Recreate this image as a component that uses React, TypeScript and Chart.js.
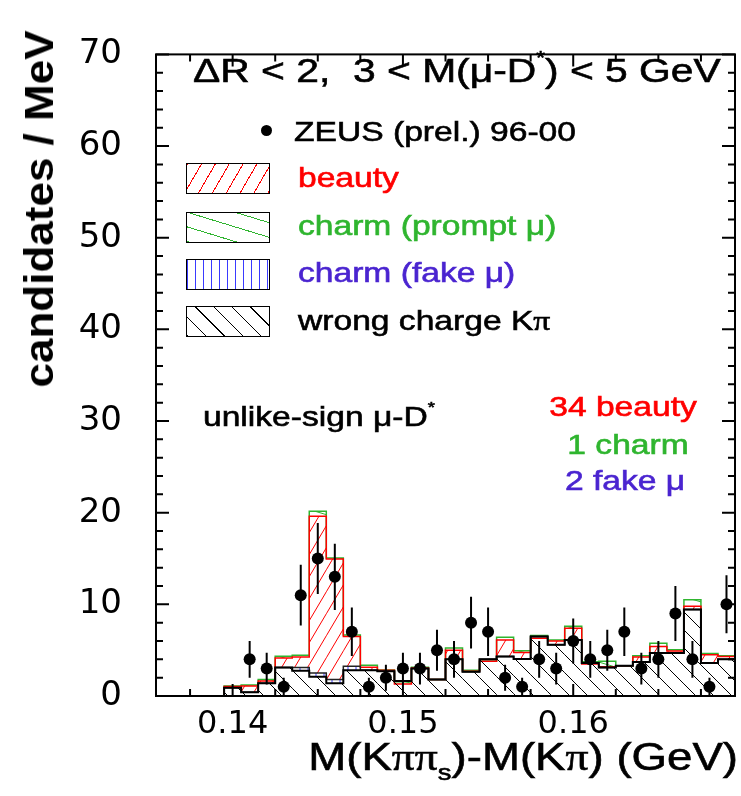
import React, { useEffect, useRef } from 'react';
import { Chart, registerables } from 'chart.js';

Chart.register(...registerables);

// Histogram bins: centres in MeV, 1 MeV wide
const BIN_CENTERS_MEV = [
  140, 141, 142, 143, 144, 145, 146, 147, 148, 149,
  150, 151, 152, 153, 154, 155, 156, 157, 158, 159,
  160, 161, 162, 163, 164, 165, 166, 167, 168, 169,
];

// Stacked MC / background components (candidates / MeV)
const WRONG_CHARGE = [
  0.9, 0.4, 1.4, 3.1, 2.75, 2.1, 1.4, 2.8, 2.8, 2.7,
  1.65, 3.0, 1.8, 4.0, 2.65, 4.0, 4.3, 4.05, 6.5, 5.6,
  6.1, 3.6, 3.1, 3.3, 3.7, 4.7, 4.7, 9.45, 3.6, 4.0,
];
const CHARM_FAKE_MU = [
  0, 0, 0, 0, 0.35, 0.4, 0.4, 0.45, 0, 0,
  0, 0, 0, 0, 0, 0, 0, 0, 0, 0,
  0, 0, 0, 0, 0, 0, 0, 0, 0, 0,
];
const BEAUTY = [
  0.15, 0.7, 0.25, 1.05, 1.15, 17.1, 13.15, 3.25, 0.35, 0.1,
  -0.35, 0.05, 0, 1.0, 0.05, -0.2, 1.8, 0.7, -0.2, 0.4,
  1.3, -0.1, 0.1, 0, 0.55, 0.7, 0.2, 0.35, 0.9, 0.3,
];
const CHARM_PROMPT_MU = [
  0.05, 0.1, 0.15, 0.2, 0.2, 0.55, 0.1, 0.15, 0.2, 0.05,
  0.25, 0.1, 0, 0.25, 0.1, 0, 0.3, 0.2, 0.3, 0.1,
  0.2, 0.25, 0.6, 0, 0.15, 0.35, 0.15, 0.7, 0.15, 0.1,
];

// ZEUS (prel.) 96-00 data
const DATA_BINS_MEV = [
  141, 142, 143, 144, 145, 146, 147, 148, 149, 150,
  151, 152, 153, 154, 155, 156, 157, 158, 159, 160,
  161, 162, 163, 164, 165, 166, 167, 168, 169,
];
const DATA_COUNTS = [
  4, 3, 1, 11, 15, 13, 7, 1, 2, 3,
  3, 5, 4, 8, 7, 2, 1, 4, 3, 6,
  4, 5, 7, 3, 4, 9, 4, 1, 10,
];

const X_TICKS = [0.14, 0.15, 0.16];
const Y_TICKS = [0, 10, 20, 30, 40, 50, 60, 70];
const X_MIN = 0.1355;
const X_MAX = 0.1695;
const Y_MIN = 0;
const Y_MAX = 70;

const RED = '#ff0000';
const GREEN = '#2fb52f';
const BLUE_TEXT = '#4a24d0';
const BLUE_HATCH = '#3a3aff';

const SANS = '"Liberation Sans", Arial, Helvetica, sans-serif';
const SERIF = '"Liberation Serif", "DejaVu Serif", serif';

function makeHatch(color: string, w: number, h: number, dir: 'up' | 'down' | 'vertical', lw = 1) {
  const c = document.createElement('canvas');
  c.width = w;
  c.height = h;
  const g = c.getContext('2d')!;
  g.strokeStyle = color;
  g.lineWidth = lw;
  g.beginPath();
  for (const ox of [-w, 0, w]) {
    for (const oy of [-h, 0, h]) {
      if (dir === 'up') {
        g.moveTo(ox, oy + h);
        g.lineTo(ox + w, oy);
      } else if (dir === 'down') {
        g.moveTo(ox, oy);
        g.lineTo(ox + w, oy + h);
      } else {
        g.moveTo(ox + w / 2, oy);
        g.lineTo(ox + w / 2, oy + h);
      }
    }
  }
  g.stroke();
  return g.createPattern(c, 'repeat')!;
}

function cumulative(base: number[], add: number[]) {
  return base.map((v, i) => v + add[i]);
}

// hatched band between two stacked levels, one bar per bin
function band(lo: number[], hi: number[]) {
  return BIN_CENTERS_MEV.flatMap((m, i) =>
    hi[i] > lo[i] ? [{ x: m / 1000, y: [lo[i], hi[i]] }] : []
  );
}

// step outline of a histogram level, drawn from bin edges
function outline(levels: number[]) {
  const n = BIN_CENTERS_MEV.length;
  const first = (BIN_CENTERS_MEV[0] - 0.5) / 1000;
  const last = (BIN_CENTERS_MEV[n - 1] + 0.5) / 1000;
  const pts: { x: number; y: number }[] = [{ x: first, y: 0 }];
  levels.forEach((v, i) => pts.push({ x: (BIN_CENTERS_MEV[i] - 0.5) / 1000, y: v }));
  pts.push({ x: last, y: levels[n - 1] }, { x: last, y: 0 });
  return pts;
}

const frameAndTicks = {
  id: 'frameAndTicks',
  afterDatasetsDraw(chart: any) {
    const { ctx, chartArea: a, scales } = chart;
    const xs = scales.x;
    const ys = scales.y;
    ctx.save();
    ctx.strokeStyle = '#000';
    ctx.lineWidth = 2;
    ctx.beginPath();
    for (let v = Y_MIN; v <= Y_MAX; v += 2) {
      const p = ys.getPixelForValue(v);
      const len = v % 10 === 0 ? 13 : 7;
      ctx.moveTo(a.left, p);
      ctx.lineTo(a.left + len, p);
      ctx.moveTo(a.right, p);
      ctx.lineTo(a.right - len, p);
    }
    for (let m = 137.5; m <= 168; m += 2.5) {
      const p = xs.getPixelForValue(m / 1000);
      const len = m % 10 === 0 ? 12 : 7;
      ctx.moveTo(p, a.bottom);
      ctx.lineTo(p, a.bottom - len);
      ctx.moveTo(p, a.top);
      ctx.lineTo(p, a.top + len);
    }
    ctx.stroke();
    ctx.strokeRect(a.left, a.top, a.right - a.left, a.bottom - a.top);
    ctx.restore();
  },
};

function Txt(props: {
  x: number;
  base: number;
  size: number;
  color?: string;
  align?: 'left' | 'center' | 'right';
  sx?: number;
  children: React.ReactNode;
}) {
  const { x, base, size, color = '#000', align = 'left', sx = 1.2, children } = props;
  const shift = align === 'left' ? '0' : align === 'center' ? '-50%' : '-100%';
  return (
    <div
      style={{
        position: 'absolute',
        left: x,
        top: base - 0.8465 * size,
        fontSize: size,
        lineHeight: 1,
        whiteSpace: 'nowrap',
        color,
        fontFamily: SANS,
        WebkitTextStroke: `0.6px ${color}`,
        transform: `translateX(${shift}) scaleX(${sx})`,
        transformOrigin: align,
      }}
    >
      {children}
    </div>
  );
}

const Pi = () => <span style={{ fontFamily: SERIF }}>π</span>;
const Sup = ({ children }: { children: React.ReactNode }) => (
  <span style={{ fontSize: '0.55em', position: 'relative', top: '-0.95em' }}>{children}</span>
);
const Sub = ({ children }: { children: React.ReactNode }) => (
  <span style={{ fontSize: '0.6em', position: 'relative', top: '0.45em' }}>{children}</span>
);

function Swatch({ top, background }: { top: number; background: string }) {
  return (
    <div
      style={{
        position: 'absolute',
        left: 186,
        top,
        width: 82,
        height: 29,
        border: '1px solid #000',
        background,
      }}
    />
  );
}

export default function App() {
  const ref = useRef<HTMLCanvasElement>(null);

  useEffect(() => {
    const lvlWrong = WRONG_CHARGE;
    const lvlFake = cumulative(lvlWrong, CHARM_FAKE_MU);
    const lvlBeauty = cumulative(lvlFake, BEAUTY);
    const lvlCharm = cumulative(lvlBeauty, CHARM_PROMPT_MU);

    const barCommon = {
      type: 'bar' as const,
      grouped: false,
      barPercentage: 1,
      categoryPercentage: 1,
      borderWidth: 0,
      inflateAmount: 0,
    };
    const lineCommon = {
      type: 'line' as const,
      stepped: 'before' as const,
      pointRadius: 0,
      fill: false,
      tension: 0,
    };

    const datasets: any[] = [
      {
        type: 'line',
        label: 'ZEUS (prel.) 96-00',
        data: DATA_BINS_MEV.map((m, i) => ({ x: m / 1000, y: DATA_COUNTS[i] })),
        showLine: false,
        pointRadius: 6,
        pointHoverRadius: 6,
        pointBackgroundColor: '#000',
        pointBorderWidth: 0,
        order: 0,
      },
      {
        ...barCommon,
        label: 'stat. error',
        data: DATA_BINS_MEV.map((m, i) => {
          const e = Math.sqrt(DATA_COUNTS[i]);
          return { x: m / 1000, y: [DATA_COUNTS[i] - e, DATA_COUNTS[i] + e] };
        }),
        barThickness: 2,
        backgroundColor: '#000',
        order: 1,
      },
      {
        ...lineCommon,
        label: 'wrong charge Kπ outline',
        data: outline(lvlWrong),
        borderColor: '#000',
        borderWidth: 2,
        order: 2,
      },
      {
        ...barCommon,
        label: 'wrong charge Kπ',
        data: band(lvlWrong.map(() => 0), lvlWrong),
        backgroundColor: makeHatch('#000', 18, 18, 'down'),
        order: 3,
      },
      {
        ...lineCommon,
        label: 'charm (fake μ) outline',
        data: outline(lvlFake),
        borderColor: '#222',
        borderWidth: 1.5,
        order: 4,
      },
      {
        ...barCommon,
        label: 'charm (fake μ)',
        data: band(lvlWrong, lvlFake),
        backgroundColor: makeHatch(BLUE_HATCH, 8, 8, 'vertical'),
        order: 5,
      },
      {
        ...lineCommon,
        label: 'beauty outline',
        data: outline(lvlBeauty),
        borderColor: RED,
        borderWidth: 1.5,
        order: 6,
      },
      {
        ...barCommon,
        label: 'beauty',
        data: band(lvlFake, lvlBeauty),
        backgroundColor: makeHatch(RED, 13, 22, 'up'),
        order: 7,
      },
      {
        ...lineCommon,
        label: 'charm (prompt μ) outline',
        data: outline(lvlCharm),
        borderColor: GREEN,
        borderWidth: 1.5,
        order: 8,
      },
      {
        ...barCommon,
        label: 'charm (prompt μ)',
        data: band(lvlBeauty, lvlCharm),
        backgroundColor: makeHatch(GREEN, 43, 13, 'down'),
        order: 9,
      },
    ];

    const chart = new Chart(ref.current!, {
      type: 'bar',
      data: { datasets },
      options: {
        responsive: false,
        animation: false,
        events: [],
        layout: { padding: { top: 25, right: 1, left: 0, bottom: 0 } },
        plugins: { legend: { display: false }, tooltip: { enabled: false } },
        scales: {
          x: {
            type: 'linear',
            min: X_MIN,
            max: X_MAX,
            offset: false,
            grid: { display: false, drawTicks: false },
            border: { display: false },
            afterBuildTicks: (s: any) => {
              s.ticks = X_TICKS.map((v) => ({ value: v }));
            },
            afterFit: (s: any) => {
              s.height = 100;
            },
            ticks: {
              autoSkip: false,
              maxRotation: 0,
              padding: 9,
              color: '#000',
              font: { family: '"DejaVu Sans"', size: 32 },
              callback: (v: any) => Number(v).toFixed(2),
            },
          },
          y: {
            type: 'linear',
            min: Y_MIN,
            max: Y_MAX,
            grid: { display: false, drawTicks: false },
            border: { display: false },
            afterBuildTicks: (s: any) => {
              s.ticks = Y_TICKS.map((v) => ({ value: v }));
            },
            afterFit: (s: any) => {
              s.width = 156;
            },
            ticks: {
              padding: 34,
              color: '#000',
              font: { family: '"DejaVu Sans"', size: 34 },
              callback: (v: any) => String(v),
            },
          },
        },
      } as any,
      plugins: [frameAndTicks],
    });
    return () => chart.destroy();
  }, []);

  return (
    <div
      style={{
        position: 'fixed',
        left: 0,
        top: 0,
        width: 741,
        height: 796,
        background: '#fff',
        overflow: 'hidden',
      }}
    >
      <canvas ref={ref} width={741} height={796} style={{ position: 'absolute', left: 0, top: 0 }} />

      {/* y-axis title */}
      <div
        style={{
          position: 'absolute',
          left: 39,
          top: 209,
          transform: 'translate(-50%, -50%) rotate(-90deg) scaleX(1.1)',
          fontFamily: SANS,
          fontWeight: 'bold',
          fontSize: 40,
          lineHeight: 1,
          whiteSpace: 'nowrap',
        }}
      >
        candidates / MeV
      </div>

      {/* x-axis title */}
      <Txt x={738} base={770} size={38} align="right">
        M(K<Pi />
        <Pi />
        <Sub>s</Sub>)-M(K<Pi />) (GeV)
      </Txt>

      {/* selection */}
      <Txt x={193} base={82} size={34}>
        ΔR &lt; 2,{'\u00a0\u00a0'}3 &lt; M(μ-D<Sup>*</Sup>) &lt; 5 GeV
      </Txt>

      {/* legend */}
      <div
        style={{
          position: 'absolute',
          left: 261,
          top: 125,
          width: 11,
          height: 11,
          borderRadius: '50%',
          background: '#000',
        }}
      />
      <Txt x={294} base={142} size={28}>
        ZEUS (prel.) 96-00
      </Txt>

      <Swatch top={163} background={`repeating-linear-gradient(120deg, ${RED} 0 1px, transparent 1px 12px)`} />
      <Txt x={298} base={188} size={28} color={RED}>
        beauty
      </Txt>

      <Swatch top={212} background={`repeating-linear-gradient(17deg, ${GREEN} 0 1px, transparent 1px 14px)`} />
      <Txt x={298} base={236} size={28} color={GREEN}>
        charm (prompt μ)
      </Txt>

      <Swatch top={259} background={`repeating-linear-gradient(90deg, ${BLUE_HATCH} 0 1.5px, transparent 1.5px 8px)`} />
      <Txt x={298} base={283} size={28} color={BLUE_TEXT}>
        charm (fake μ)
      </Txt>

      <Swatch top={306} background={`repeating-linear-gradient(45deg, #000 0 1px, transparent 1px 13px)`} />
      <Txt x={298} base={331} size={28}>
        wrong charge K<Pi />
      </Txt>

      {/* annotations */}
      <Txt x={203} base={427} size={28}>
        unlike-sign μ-D<Sup>*</Sup>
      </Txt>
      <Txt x={623} base={417} size={28} align="center" color={RED}>
        34 beauty
      </Txt>
      <Txt x={628} base={455} size={28} align="center" color={GREEN}>
        1 charm
      </Txt>
      <Txt x={625} base={491} size={28} align="center" color={BLUE_TEXT}>
        2 fake μ
      </Txt>
    </div>
  );
}
